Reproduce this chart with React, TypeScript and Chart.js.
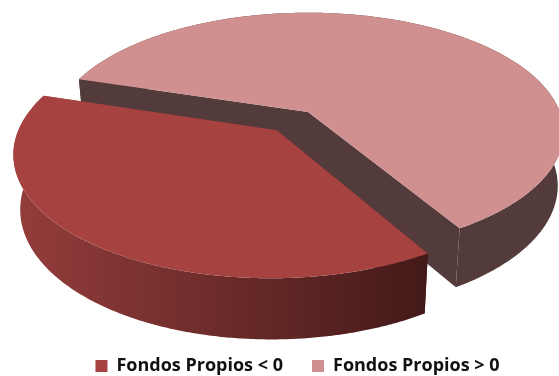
import React, { useEffect, useRef } from 'react';
import { Chart, registerables } from 'chart.js';

Chart.register(...registerables);

// ---- data ----
const categories: string[] = ['Fondos Propios < 0', 'Fondos Propios > 0'];
const shares: number[] = [38.4, 61.6];
const topColors: string[] = ['#A64341', '#D09090'];

type Pt = [number, number];

const pie3d = {
  id: 'pie3d',
  beforeDatasetsDraw(chart: any, _args: any, opts: any) {
    const meta = chart.getDatasetMeta(0);
    const ctx: CanvasRenderingContext2D = chart.ctx;
    const { cx, cy, fx, fy, dist, tilt, depth, explode, sideColors } = opts;
    const c = Math.cos((tilt * Math.PI) / 180);
    const s = Math.sin((tilt * Math.PI) / 180);
    const P = (X: number, Y: number, Z: number): Pt => {
      const yc = Y * c - Z * s;
      const zc = dist - (Z * c + Y * s);
      return [cx + (fx * X) / zc, cy - (fy * yc) / zc];
    };
    const poly = (pts: Pt[], fill: any) => {
      ctx.beginPath();
      ctx.moveTo(pts[0][0], pts[0][1]);
      for (let k = 1; k < pts.length; k++) ctx.lineTo(pts[k][0], pts[k][1]);
      ctx.closePath();
      ctx.fillStyle = fill;
      ctx.fill();
    };
    const slices = meta.data
      .map((arc: any, i: number) => {
        const { startAngle, endAngle } = arc.getProps(['startAngle', 'endAngle'], true);
        const mid = (startAngle + endAngle) / 2;
        const e = (explode && explode[i]) || 0;
        return { arc, i, a0: startAngle, a1: endAngle, mid, ox: e * Math.cos(mid), oz: e * Math.sin(mid) };
      })
      .filter((sl: any) => sl.a1 > sl.a0 && chart.getDataVisibility(sl.i));
    slices.sort((a: any, b: any) => Math.sin(a.mid) + a.oz - (Math.sin(b.mid) + b.oz));

    ctx.save();
    for (const sl of slices) {
      const N = Math.max(2, Math.ceil((sl.a1 - sl.a0) / (Math.PI / 360)));
      const rimTop: Pt[] = [];
      const rimBot: Pt[] = [];
      for (let k = 0; k <= N; k++) {
        const a = sl.a0 + ((sl.a1 - sl.a0) * k) / N;
        const X = sl.ox + Math.cos(a);
        const Z = sl.oz + Math.sin(a);
        rimTop.push(P(X, 0, Z));
        rimBot.push(P(X, -depth, Z));
      }
      const cTop = P(sl.ox, 0, sl.oz);
      const cBot = P(sl.ox, -depth, sl.oz);
      const xs = rimBot.map((p) => p[0]).concat(rimTop.map((p) => p[0]));
      const minX = Math.min(...xs);
      const maxX = Math.max(...xs);
      const cols = sideColors[sl.i];
      const grad = ctx.createLinearGradient(minX, 0, maxX, 0);
      grad.addColorStop(0, cols[0]);
      grad.addColorStop(1, cols[1]);
      poly([cTop, rimTop[0], rimBot[0], cBot], grad);
      poly([cTop, rimTop[N], rimBot[N], cBot], grad);
      poly([...rimTop, ...rimBot.slice().reverse()], grad);
      poly([cTop, ...rimTop], sl.arc.options.backgroundColor);
    }
    ctx.restore();
    return false;
  },
};

export default function App() {
  const ref = useRef<HTMLCanvasElement | null>(null);
  useEffect(() => {
    if (!ref.current) return;
    const chart = new Chart(ref.current, {
      type: 'pie',
      data: {
        labels: categories,
        datasets: [
          {
            data: shares,
            backgroundColor: topColors,
            borderWidth: 0,
          },
        ],
      },
      plugins: [pie3d],
      options: {
        responsive: false,
        animation: false,
        rotation: 149,
        layout: { padding: { left: 36, right: 0, top: 0, bottom: 0 } },
        plugins: {
          tooltip: { enabled: false },
          legend: {
            position: 'bottom',
            maxHeight: 48,
            labels: {
              boxWidth: 12,
              boxHeight: 12,
              padding: 29,
              color: '#111111',
              font: { family: "'Open Sans'", size: 18, weight: 'bold' },
            },
          },
          // @ts-ignore
          pie3d: {
            cx: 308,
            cy: 112,
            fx: 1317,
            fy: 1293,
            dist: 5.23,
            tilt: 28,
            depth: 0.249,
            explode: [0.195, 0],
            sideColors: [
              ['#943D3B', '#431A19'],
              ['#533B3C', '#533B3C'],
            ],
          },
        },
      } as any,
    });
    return () => chart.destroy();
  }, []);
  return (
    <div style={{ position: 'fixed', left: 0, top: 0, width: 559, height: 376, background: '#fff' }}>
      <canvas ref={ref} width={559} height={376} style={{ display: 'block' }} />
    </div>
  );
}
